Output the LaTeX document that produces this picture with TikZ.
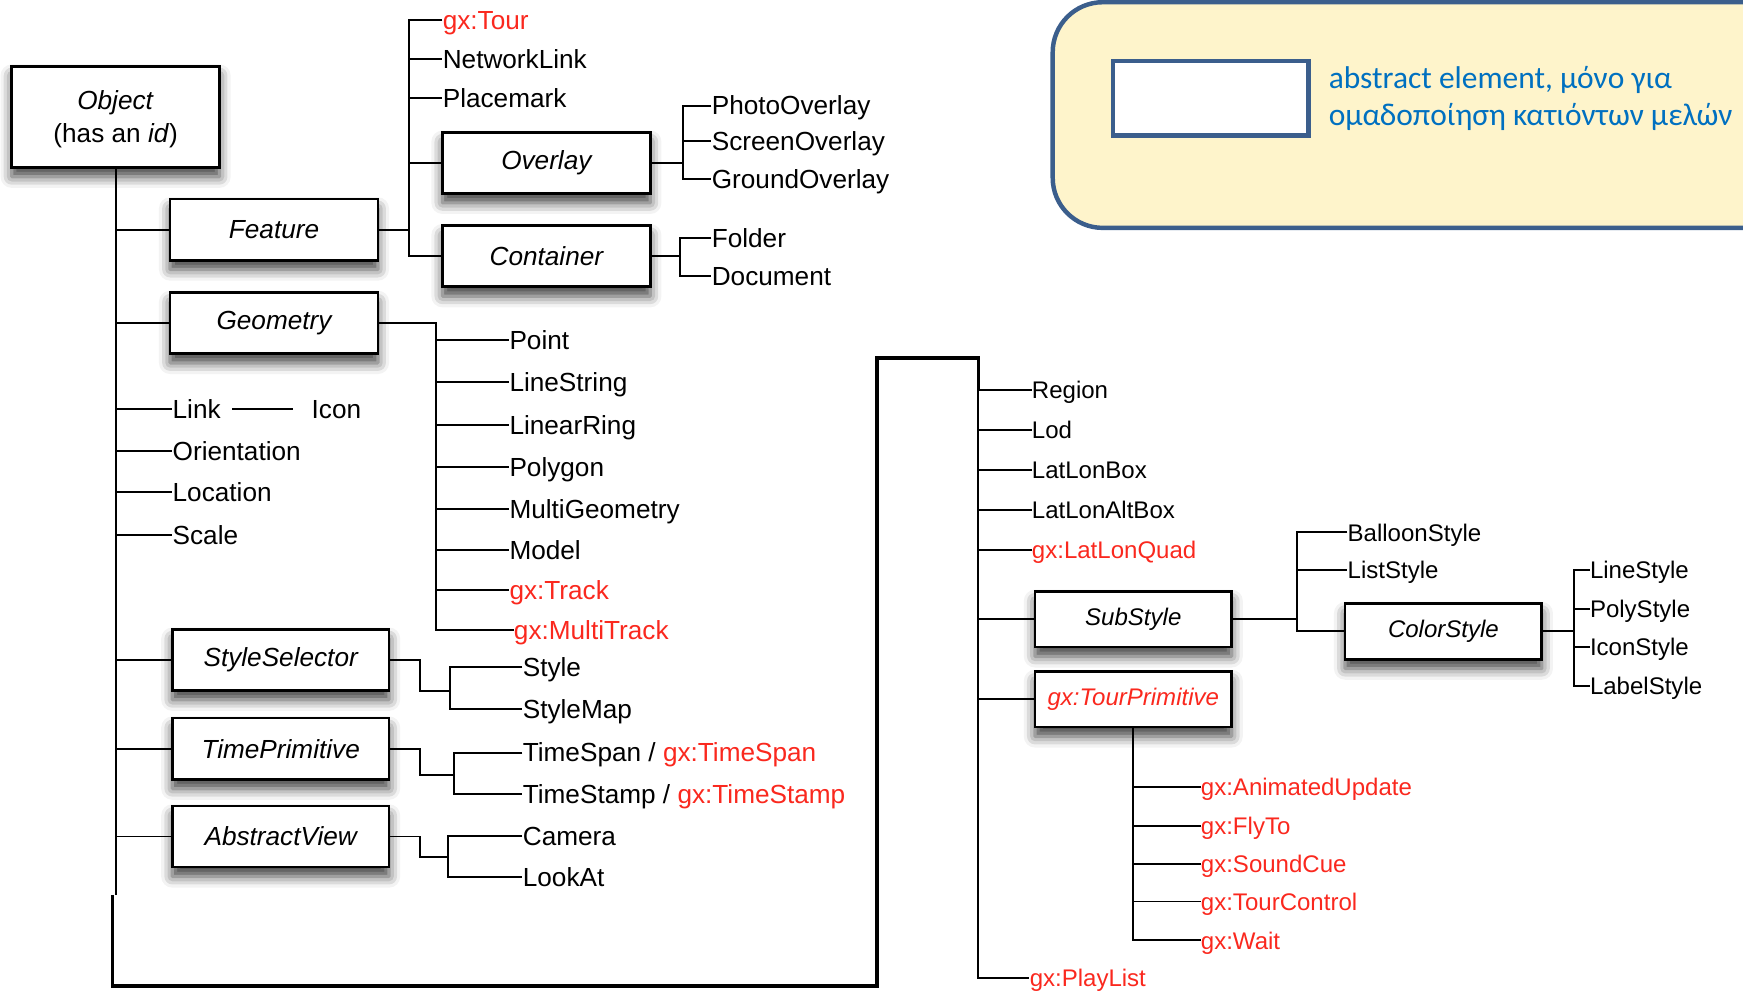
\documentclass[tikz,border=0pt]{standalone}
\usepackage{fontspec}
\setmainfont{Liberation Sans}
\newfontfamily\legendfont{Carlito}
\usetikzlibrary{calc,positioning,shadows.blur}
\definecolor{gxred}{RGB}{250,40,30}
\definecolor{legendfill}{RGB}{254,244,203}
\definecolor{legendblue}{RGB}{59,94,140}
\definecolor{legendtext}{RGB}{0,112,192}
\newcommand{\elsize}{\fontsize{13.4}{15.9}\selectfont}
\newcommand{\elsmall}{\fontsize{12.3}{14}\selectfont}
\tikzset{
	absel/.style={draw,line width=0.5mm,fill=white,inner sep=0pt,minimum width=37.4mm,minimum height=11mm,font=\elsize\itshape,
		blur shadow={shadow xshift=0mm,shadow yshift=-1.7mm,shadow blur radius=2mm,shadow opacity=75}},
	abselwide/.style={absel,minimum width=39mm},
	abselsmall/.style={absel,minimum width=35.4mm,minimum height=10mm,font=\elsmall\itshape},
	el/.style={anchor=west,inner sep=0pt,text height=9.6pt,text depth=0pt,font=\elsize},
	elsm/.style={anchor=west,inner sep=0pt,text height=8.9pt,text depth=0pt,font=\elsmall},
	gx/.style={text=gxred},
	edge/.style={color=black,line width=0.35mm},
	loopedge/.style={color=black,line width=0.6mm},
	legendframe/.style={draw=legendblue,fill=legendfill,line width=0.8mm,rounded corners=9mm},
	legendkey/.style={draw=legendblue,fill=white,line width=0.8mm,minimum width=35.2mm,minimum height=13.4mm,inner sep=0pt},
	legendlabel/.style={anchor=west,inner sep=0pt,align=left,text=legendtext,font=\legendfont\fontsize{16.1}{19.35}\selectfont}
}

\begin{document}
\begin{tikzpicture}[x=0.2mm,y=-0.2mm]
	\useasboundingbox (0,0) rectangle (1568,892);
	
	%%%% legend
	\draw[legendframe] (947,2) rectangle (1640,205);
	\node[legendkey] (keybox) at (1089,88.5) {};
	\node[legendlabel,right=3.2mm of keybox] (keytext) {abstract element, μόνο για\\ομαδοποίηση κατιόντων μελών};
	
	%%%% Object and its children
	\node[absel,minimum height=18.2mm,align=center,font=\elsize,text depth=0pt] (object) at (104,105) {\textit{Object}\\[1pt](has an \textit{id})};
	\node[absel] (feature) at (246.5,206.5) {Feature};
	\node[absel] (geometry) at (246.5,290.5) {Geometry};
	\node[el] (link) at (155,368) {Link};
	\node[el] (icon) at (280,368) {Icon};
	\node[el] (orient) at (155,406) {Orientation};
	\node[el] (location) at (155,443) {Location};
	\node[el] (scale) at (155,481) {Scale};
	\node[abselwide] (stylesel) at (252.5,593.5) {StyleSelector};
	\node[abselwide] (timeprim) at (252.5,673.5) {TimePrimitive};
	\node[abselwide] (absview) at (252.5,752.5) {AbstractView};
	
	%%%% Feature
	\node[el,gx] (tour) at (398,18) {gx:Tour};
	\node[el] (netlink) at (398,53) {NetworkLink};
	\node[el] (placemark) at (398,88) {Placemark};
	\node[absel] (overlay) at (491.5,146.5) {Overlay};
	\node[absel] (container) at (491.5,230.5) {Container};
	\node[el] (photo) at (640,95) {PhotoOverlay};
	\node[el] (screen) at (640,127) {ScreenOverlay};
	\node[el] (ground) at (640,161) {GroundOverlay};
	\node[el] (folder) at (640,214) {Folder};
	\node[el] (document) at (640,248) {Document};
	
	%%%% Geometry
	\node[el] (point) at (458,306) {Point};
	\node[el] (linestring) at (458,344) {LineString};
	\node[el] (linearring) at (458,382) {LinearRing};
	\node[el] (polygon) at (458,420) {Polygon};
	\node[el] (multigeom) at (458,458) {MultiGeometry};
	\node[el] (model) at (458,495) {Model};
	\node[el,gx] (track) at (458,531) {gx:Track};
	\node[el,gx] (multitrack) at (462,567) {gx:MultiTrack};
	
	%%%% StyleSelector, TimePrimitive, AbstractView
	\node[el] (style) at (470,600) {Style};
	\node[el] (stylemap) at (470,638) {StyleMap};
	\node[el] (timespan) at (470,677) {TimeSpan / \textcolor{gxred}{gx:TimeSpan}};
	\node[el] (timestamp) at (470,714) {TimeStamp / \textcolor{gxred}{gx:TimeStamp}};
	\node[el] (camera) at (470,752) {Camera};
	\node[el] (lookat) at (470,789) {LookAt};
	
	%%%% right column
	\node[elsm] (region) at (928,351) {Region};
	\node[elsm] (lod) at (928,387) {Lod};
	\node[elsm] (latlonbox) at (928,423) {LatLonBox};
	\node[elsm] (latlonalt) at (928,459) {LatLonAltBox};
	\node[elsm,gx] (latlonquad) at (928,495) {gx:LatLonQuad};
	\node[abselsmall] (substyle) at (1019.5,557) {SubStyle};
	\node[abselsmall,gx] (tourprim) at (1019.5,629) {gx:TourPrimitive};
	\node[elsm,gx] (playlist) at (926,880) {gx:PlayList};
	
	%%%% SubStyle
	\node[elsm] (balloon) at (1212,479) {BalloonStyle};
	\node[elsm] (liststyle) at (1212,513) {ListStyle};
	\node[abselsmall] (colorstyle) at (1298.5,568) {ColorStyle};
	\node[elsm] (linestyle) at (1430,513) {LineStyle};
	\node[elsm] (polystyle) at (1430,548) {PolyStyle};
	\node[elsm] (iconstyle) at (1430,582) {IconStyle};
	\node[elsm] (labelstyle) at (1430,617) {LabelStyle};
	
	%%%% gx:TourPrimitive
	\node[elsm,gx] (animupd) at (1080,708) {gx:AnimatedUpdate};
	\node[elsm,gx] (flyto) at (1080,743) {gx:FlyTo};
	\node[elsm,gx] (soundcue) at (1080,777) {gx:SoundCue};
	\node[elsm,gx] (tourctrl) at (1080,811) {gx:TourControl};
	\node[elsm,gx] (wait) at (1080,846) {gx:Wait};
	
	%%%% bus points
	\coordinate (fbus) at (368,206.5);
	\coordinate (obus) at (614,146.5);
	\coordinate (cbus) at (612,230.5);
	\coordinate (gbus) at (392,290.5);
	\coordinate (ssknee) at (378,622);
	\coordinate (ssbus) at (405,622);
	\coordinate (tpknee) at (378,697);
	\coordinate (tpbus) at (408,697);
	\coordinate (avknee) at (378,771);
	\coordinate (avbus) at (403,771);
	\coordinate (ljoin) at (101,805);
	\coordinate (loopb) at (789,887);
	\coordinate (loopt) at (880,322);
	\coordinate (rjoin) at (880,352);
	\coordinate (sbus) at (1167,557);
	\coordinate (csbus) at (1416,568);
	
	%%%% trunk and loop
	\draw[edge] (object.south) -- (object.south |- ljoin);
	\draw[loopedge] (ljoin) |- (loopb) |- (loopt) -- (rjoin);
	\draw[edge] (rjoin) |- (playlist.west);
	
	\draw[edge]
	(object.south |- feature.west) -- (feature.west)
	(object.south |- geometry.west) -- (geometry.west)
	(object.south |- link.west) -- (link.west)
	(object.south |- orient.west) -- (orient.west)
	(object.south |- location.west) -- (location.west)
	(object.south |- scale.west) -- (scale.west)
	(object.south |- stylesel.west) -- (stylesel.west)
	(object.south |- timeprim.west) -- (timeprim.west)
	(object.south |- absview.west) -- (absview.west);
	\draw[edge,shorten <=2mm,shorten >=3.2mm] (link.east) -- (icon.west);
	
	%%%% Feature lines
	\draw[edge]
	(feature.east) -- (fbus)
	(tour.west) -| (fbus) |- (container.west)
	(fbus |- netlink.west) -- (netlink.west)
	(fbus |- placemark.west) -- (placemark.west)
	(fbus |- overlay.west) -- (overlay.west);
	\draw[edge]
	(overlay.east) -- (obus)
	(photo.west) -| (obus) |- (ground.west)
	(obus |- screen.west) -- (screen.west);
	\draw[edge]
	(container.east) -- (cbus)
	(folder.west) -| (cbus) |- (document.west);
	
	%%%% Geometry lines
	\draw[edge]
	(geometry.east) -- (gbus) |- (multitrack.west)
	(gbus |- point.west) -- (point.west)
	(gbus |- linestring.west) -- (linestring.west)
	(gbus |- linearring.west) -- (linearring.west)
	(gbus |- polygon.west) -- (polygon.west)
	(gbus |- multigeom.west) -- (multigeom.west)
	(gbus |- model.west) -- (model.west)
	(gbus |- track.west) -- (track.west);
	
	%%%% lower boxes
	\draw[edge]
	(stylesel.east) -| (ssknee) -- (ssbus)
	(style.west) -| (ssbus) |- (stylemap.west);
	\draw[edge]
	(timeprim.east) -| (tpknee) -- (tpbus)
	(timespan.west) -| (tpbus) |- (timestamp.west);
	\draw[edge]
	(absview.east) -| (avknee) -- (avbus)
	(camera.west) -| (avbus) |- (lookat.west);
	
	%%%% right column lines
	\draw[edge]
	(loopt |- region.west) -- (region.west)
	(loopt |- lod.west) -- (lod.west)
	(loopt |- latlonbox.west) -- (latlonbox.west)
	(loopt |- latlonalt.west) -- (latlonalt.west)
	(loopt |- latlonquad.west) -- (latlonquad.west)
	(loopt |- substyle.west) -- (substyle.west)
	(loopt |- tourprim.west) -- (tourprim.west);
	
	\draw[edge]
	(substyle.east) -- (sbus)
	(balloon.west) -| (sbus) |- (colorstyle.west)
	(sbus |- liststyle.west) -- (liststyle.west);
	\draw[edge]
	(colorstyle.east) -- (csbus)
	(linestyle.west) -| (csbus) |- (labelstyle.west)
	(csbus |- polystyle.west) -- (polystyle.west)
	(csbus |- iconstyle.west) -- (iconstyle.west);
	
	\draw[edge]
	(tourprim.south) |- (wait.west)
	(tourprim.south |- animupd.west) -- (animupd.west)
	(tourprim.south |- flyto.west) -- (flyto.west)
	(tourprim.south |- soundcue.west) -- (soundcue.west)
	(tourprim.south |- tourctrl.west) -- (tourctrl.west);
\end{tikzpicture}
\end{document}
